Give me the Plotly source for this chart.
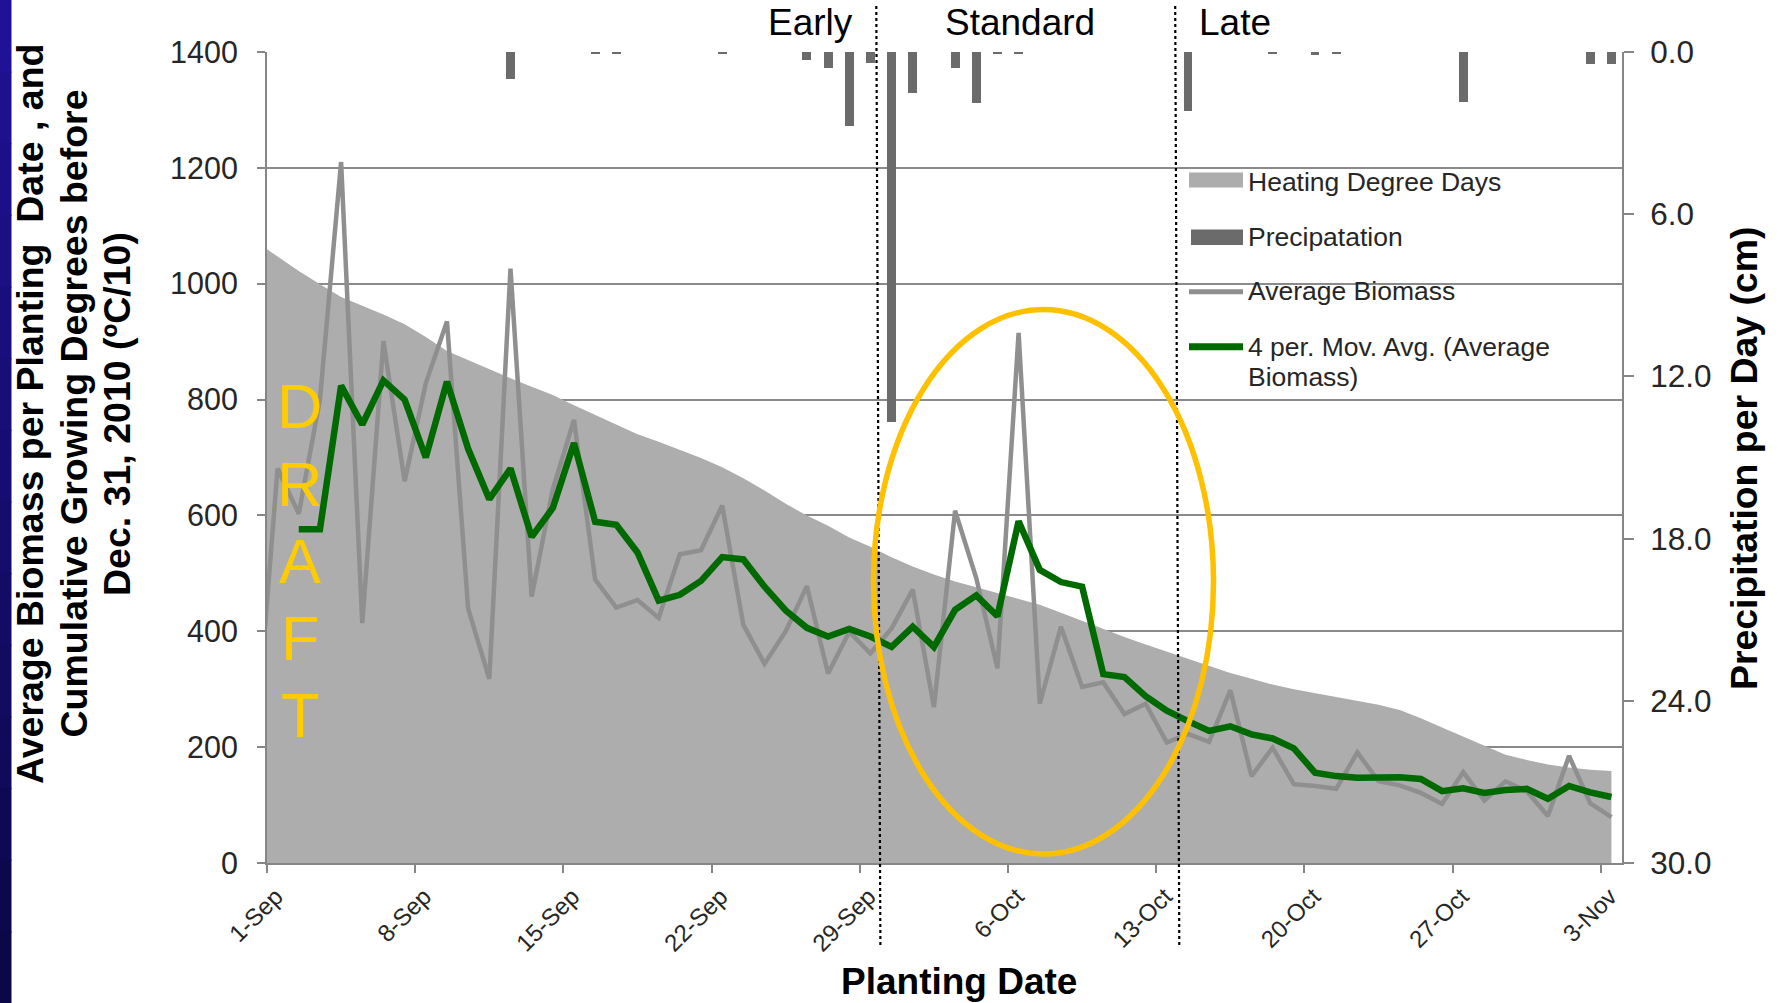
import pandas as pd
import plotly.graph_objects as go

# ---------------- data ----------------
start_date = "2010-08-31"
end_date = "2010-11-03"
dates = pd.date_range(start_date, end_date, freq="D")

heating_degree_days = [
    1072, 1047, 1022, 999, 977, 962, 947, 930, 908, 884, 868, 852, 837, 822, 808,
    790, 773, 757, 740, 727, 713, 699, 683, 664, 643, 620, 600, 582, 562, 546,
    528, 512, 498, 486, 476, 466, 457, 446, 432, 418, 403, 390, 377, 365, 352,
    340, 328, 318, 308, 300, 293, 286, 279, 273, 264, 250, 234, 218, 202, 187,
    178, 170, 165, 161, 159]

precipitation = [
    0, 0, 0, 0, 0, 0, 0, 0, 0, 0, 0, 0, 1.0, 0, 0,
    0, 0.06, 0.06, 0, 0, 0, 0, 0.06, 0, 0, 0, 0.3, 0.6, 2.75, 0.4,
    13.7, 1.5, 0, 0.6, 1.9, 0.06, 0.06, 0, 0, 0, 0, 0, 0, 0, 2.2,
    0, 0, 0, 0.06, 0, 0.12, 0.06, 0, 0, 0, 0, 0, 1.85, 0, 0,
    0, 0, 0, 0.45, 0.45]

average_biomass = [
    220, 681, 603, 800, 1210, 414, 901, 659, 828, 935, 439, 318, 1026, 460, 645,
    765, 489, 441, 454, 423, 533, 540, 617, 411, 344, 400, 478, 327, 399, 362,
    405, 472, 269, 608, 492, 336, 915, 275, 408, 304, 312, 257, 275, 208, 223,
    209, 298, 150, 199, 136, 133, 128, 191, 141, 134, 121, 102, 157, 108, 141,
    124, 81, 185, 103, 79]

moving_avg_4 = [
    None, None, 576, 576, 824, 757, 833, 800, 700, 831, 715, 628, 681, 563, 613,
    725, 589, 584, 536, 453, 463, 487, 528, 524, 477, 436, 406, 391, 404, 391,
    373, 408, 373, 437, 462, 426, 590, 506, 485, 477, 326, 321, 288, 263, 245,
    228, 236, 222, 215, 198, 156, 150, 147, 148, 148, 145, 124, 129, 121, 126,
    128, 111, 133, 122, 114]

x_ticks = pd.date_range("2010-09-01", "2010-11-03", freq="7D")
left_ticks = [0, 200, 400, 600, 800, 1000, 1200, 1400]
right_ticks = [0, 6, 12, 18, 24, 30]

series_names = ["Heating Degree Days", "Precipatation", "Average Biomass",
                "4 per. Mov. Avg. (Average Biomass)"]

# ---------------- layout geometry ----------------
W, H = 1779, 1003
L, R, T, B = 267, 157, 52, 140
PW, PH = W - L - R, H - T - B
BOTTOM = H - B


def px(x):
    return (x - L) / PW


def py(y):
    return (BOTTOM - y) / PH


FONT = "Arial, 'Liberation Sans', sans-serif"
AX = "#868686"
TXT = "#262626"
C_AREA = "#ADADAD"
C_BAR = "#6B6B6B"
C_LINE = "#8F8F8F"
C_GREEN = "#006A00"

# plot values at the middle of each day
x_mid = dates + pd.Timedelta(hours=12)
day_ms = 86400000

fig = go.Figure()
fig.add_trace(go.Scatter(
    x=x_mid, y=heating_degree_days, mode="lines", name=series_names[0],
    line=dict(width=0, color=C_AREA), fill="tozeroy", fillcolor=C_AREA))
fig.add_trace(go.Bar(
    x=x_mid, y=precipitation, name=series_names[1], yaxis="y2",
    marker=dict(color=C_BAR, line=dict(width=0)), width=0.42 * day_ms))
fig.add_trace(go.Scatter(
    x=x_mid, y=average_biomass, mode="lines", name=series_names[2],
    line=dict(color=C_LINE, width=4.5)))
fig.add_trace(go.Scatter(
    x=x_mid, y=moving_avg_4, mode="lines", name=series_names[3],
    line=dict(color=C_GREEN, width=6.5)))

shapes = []
# left blue strip (vertical gradient imitation)
n = 14
for i in range(n):
    t = i / (n - 1)
    r = int(32 + (12 - 32) * t)
    g = int(18 + (8 - 18) * t)
    b = int(150 + (72 - 150) * t)
    y0 = i * H / n
    y1 = (i + 1) * H / n + 1
    shapes.append(dict(type="rect", xref="paper", yref="paper",
                       x0=px(0), x1=px(11.5), y0=py(y1), y1=py(y0),
                       fillcolor=f"rgb({r},{g},{b})", line=dict(width=0),
                       layer="above"))
# dotted dividers
for xt, xb in [(876.3, 880.4), (1175.2, 1179.3)]:
    shapes.append(dict(type="line", xref="paper", yref="paper",
                       x0=px(xt), y0=py(6), x1=px(xb), y1=py(947),
                       line=dict(color="black", width=2.2, dash="dot")))
# highlight ellipse
shapes.append(dict(type="circle", xref="paper", yref="paper",
                   x0=px(873.5), x1=px(1213.5), y0=py(854), y1=py(309.5),
                   line=dict(color="#FFC000", width=5.5)))

# legend swatches
shapes.append(dict(type="rect", xref="paper", yref="paper",
                   x0=px(1189), x1=px(1243), y0=py(187.5), y1=py(172.5),
                   fillcolor=C_AREA, line=dict(width=0)))
shapes.append(dict(type="rect", xref="paper", yref="paper",
                   x0=px(1191), x1=px(1243), y0=py(245), y1=py(229.5),
                   fillcolor=C_BAR, line=dict(width=0)))
shapes.append(dict(type="line", xref="paper", yref="paper",
                   x0=px(1189), x1=px(1243), y0=py(291.7), y1=py(291.7),
                   line=dict(color=C_LINE, width=5)))
shapes.append(dict(type="line", xref="paper", yref="paper",
                   x0=px(1189), x1=px(1243), y0=py(346.7), y1=py(346.7),
                   line=dict(color=C_GREEN, width=7)))

ann = []
# legend texts
for yc, txt in [(181.5, series_names[0]), (237, series_names[1]),
                (291, series_names[2]), (347.5, "4 per. Mov. Avg. (Average"),
                (376.5, "Biomass)")]:
    ann.append(dict(text=txt, xref="paper", yref="paper", x=px(1246),
                    y=py(yc), showarrow=False, xanchor="left",
                    yanchor="middle",
                    font=dict(family=FONT, size=26.5, color=TXT)))
# left y-axis title (three lines)
for xc, txt in [(30, "Average Biomass per Planting  Date , and"),
                (73.5, "Cumulative Growing Degrees before"),
                (117, "Dec. 31, 2010 (ºC/10)")]:
    ann.append(dict(text=f"<b>{txt}</b>", xref="paper", yref="paper",
                    x=px(xc), y=py(414), textangle=-90, showarrow=False,
                    xanchor="center", yanchor="middle",
                    font=dict(family=FONT, size=37.5, color="black")))
# right y-axis title
ann.append(dict(text="<b>Precipitation per Day (cm)</b>", xref="paper",
                yref="paper", x=px(1744), y=py(458), textangle=-90,
                showarrow=False, xanchor="center", yanchor="middle",
                font=dict(family=FONT, size=37.4, color="black")))
# x-axis title
ann.append(dict(text="<b>Planting Date</b>", xref="paper", yref="paper",
                x=px(959), y=py(982), showarrow=False,
                xanchor="center", yanchor="middle",
                font=dict(family=FONT, size=37, color="black")))
# period labels
for xc, txt in [(810.6, "Early"), (1020, "Standard"), (1235, "Late")]:
    ann.append(dict(text=txt, xref="paper", yref="paper", x=px(xc),
                    y=py(22.4), showarrow=False, xanchor="center",
                    yanchor="middle",
                    font=dict(family=FONT, size=37, color="black")))
# DRAFT watermark
for yc, ch in zip([405.5, 483.5, 561, 637.5, 714.5], "DRAFT"):
    ann.append(dict(text=ch, xref="paper", yref="paper", x=px(300),
                    y=py(yc), showarrow=False, xanchor="center",
                    yanchor="middle",
                    font=dict(family=FONT, size=63, color="#FFCC00")))

fig.update_layout(
    width=W, height=H,
    margin=dict(l=L, r=R, t=T, b=B, pad=0),
    paper_bgcolor="white", plot_bgcolor="white",
    font=dict(family=FONT, color=TXT),
    showlegend=False,
    bargap=0,
    xaxis=dict(type="date", range=["2010-09-01", "2010-11-04"],
               tickvals=list(x_ticks), tickformat="%-d-%b", tickangle=-45,
               ticks="outside", ticklen=8, tickwidth=2, tickcolor=AX,
               showline=True, linecolor=AX, linewidth=2, showgrid=False,
               zeroline=False, ticklabelshift=9,
               tickfont=dict(family=FONT, size=24, color=TXT)),
    yaxis=dict(range=[0, 1400], tickvals=left_ticks, showgrid=True,
               gridcolor="#8A8A8A", gridwidth=2, showline=True, linecolor=AX,
               linewidth=2, ticks="outside", ticklen=8, tickwidth=2,
               tickcolor=AX, zeroline=False, ticklabelstandoff=13,
               tickfont=dict(family=FONT, size=30.5, color=TXT)),
    yaxis2=dict(range=[30, 0], overlaying="y", side="right",
                tickvals=right_ticks, tickformat=".1f", showgrid=False,
                showline=True, linecolor=AX, linewidth=2, ticks="outside",
                ticklen=10, tickwidth=2, tickcolor=AX, zeroline=False,
                ticklabelstandoff=10,
                tickfont=dict(family=FONT, size=31.5, color=TXT)),
    shapes=shapes,
    annotations=ann,
)

fig.write_html("out.html",
               config={"displayModeBar": False},
               post_script="document.body.style.margin='0';"
                           "document.body.style.overflow='hidden';")
